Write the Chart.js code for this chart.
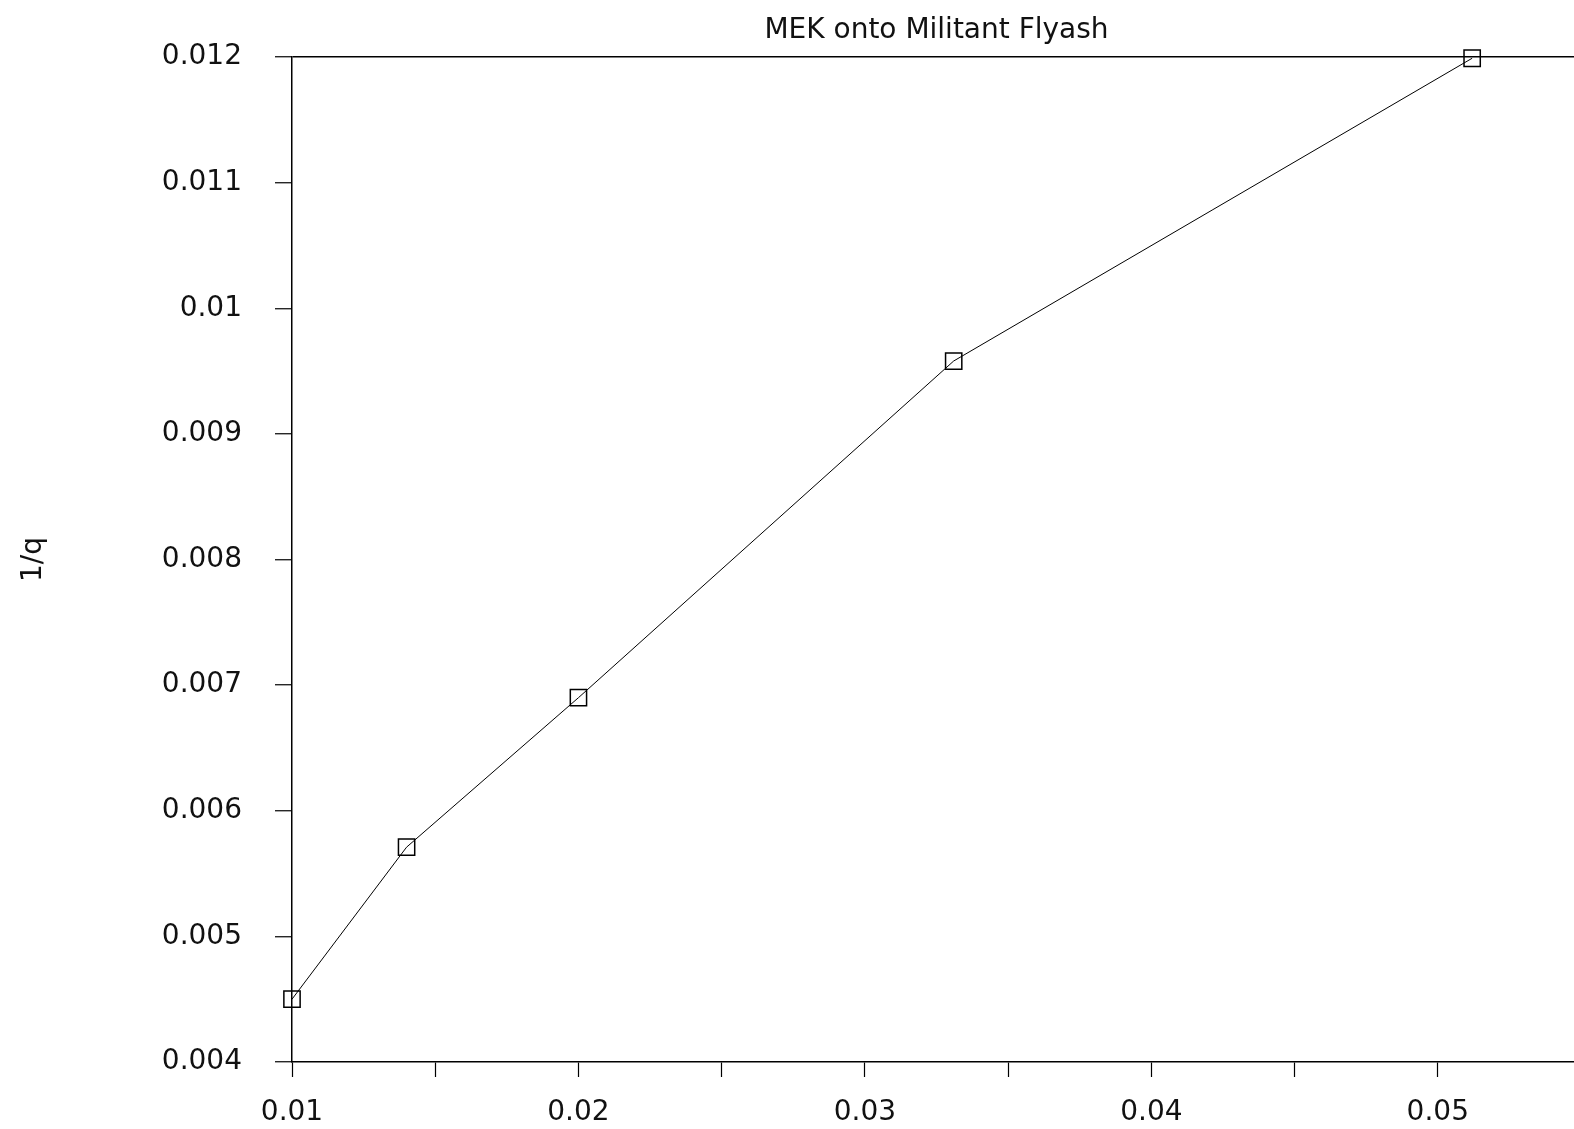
<!DOCTYPE html>
<html>
<head>
<meta charset="utf-8">
<script src="https://cdn.jsdelivr.net/npm/chart.js@4/dist/chart.umd.min.js"></script>
<style>
  html, body { margin: 0; padding: 0; background: #fff; overflow: hidden; }
  #wrap { position: absolute; left: 0; top: 0; width: 1600px; height: 1129px; }
</style>
</head>
<body>
<div id="wrap"><canvas id="c" width="1600" height="1129"></canvas></div>
<script>
// ---- data ----
const chartTitle = 'MEK onto Militant Flyash';
const yAxisTitle = '1/q';
const xValues = [0.01, 0.014, 0.02, 0.0331, 0.0512];
const yValues = [0.0045, 0.00571, 0.0069, 0.00958, 0.01199];
const xTickValues = [0.01, 0.02, 0.03, 0.04, 0.05];
const xTickLabels = ['0.01', '0.02', '0.03', '0.04', '0.05'];
const yTickValues = [0.004, 0.005, 0.006, 0.007, 0.008, 0.009, 0.01, 0.011, 0.012];
const yTickLabels = ['0.004', '0.005', '0.006', '0.007', '0.008', '0.009', '0.01', '0.011', '0.012'];

const FONT = "'DejaVu Sans', sans-serif";
const INK = '#111';

function labelFor(v, vals, labels) {
  for (let i = 0; i < vals.length; i++) {
    if (Math.abs(v - vals[i]) < 1e-9) return labels[i];
  }
  return '';
}

const points = xValues.map((x, i) => ({ x: x, y: yValues[i] }));

new Chart(document.getElementById('c'), {
  type: 'line',
  data: {
    datasets: [{
      data: points,
      clip: false,
      borderColor: '#000',
      borderWidth: 1,
      tension: 0,
      fill: false,
      pointStyle: 'rect',
      pointRadius: 11.5,
      pointHoverRadius: 11.5,
      pointBorderWidth: 1.5,
      pointBorderColor: '#000',
      pointBackgroundColor: 'rgba(0,0,0,0)'
    }]
  },
  options: {
    responsive: false,
    animation: false,
    devicePixelRatio: 1,
    layout: { padding: { left: 0, right: 19, top: 0, bottom: 0 } },
    plugins: {
      legend: { display: false },
      tooltip: { enabled: false },
      title: {
        display: true,
        text: chartTitle,
        fullSize: false,
        color: INK,
        font: { family: FONT, size: 28, weight: 'normal', lineHeight: 1.2 },
        padding: { top: 14, bottom: 9.4 }
      }
    },
    scales: {
      x: {
        type: 'linear',
        min: 0.01,
        max: 0.055,
        afterFit: (s) => { s.height = 67; },
        border: { display: true, color: '#000', width: 1.5 },
        grid: {
          display: true,
          drawOnChartArea: false,
          drawTicks: true,
          tickLength: 15,
          tickColor: '#000',
          tickWidth: 1.2
        },
        ticks: {
          stepSize: 0.005,
          autoSkip: false,
          maxRotation: 0,
          padding: 19,
          color: INK,
          font: { family: FONT, size: 28 },
          callback: (v) => labelFor(v, xTickValues, xTickLabels)
        }
      },
      y: {
        type: 'linear',
        min: 0.004,
        max: 0.012,
        afterFit: (s) => { s.width = 292; },
        border: { display: true, color: '#000', width: 1.5 },
        grid: {
          display: true,
          drawOnChartArea: true,
          drawTicks: true,
          tickLength: 17,
          tickColor: '#000',
          tickWidth: 1.2,
          lineWidth: 1.5,
          color: (ctx) => (ctx.tick && Math.abs(ctx.tick.value - 0.012) < 1e-9) ? '#000' : 'rgba(0,0,0,0)'
        },
        ticks: {
          stepSize: 0.001,
          autoSkip: false,
          padding: 33,
          color: INK,
          font: { family: FONT, size: 28 },
          callback: (v) => labelFor(v, yTickValues, yTickLabels)
        },
        title: {
          display: true,
          text: yAxisTitle,
          color: INK,
          font: { family: FONT, size: 28 },
          padding: { top: 17, bottom: 0 }
        }
      }
    }
  }
});
</script>
</body>
</html>
